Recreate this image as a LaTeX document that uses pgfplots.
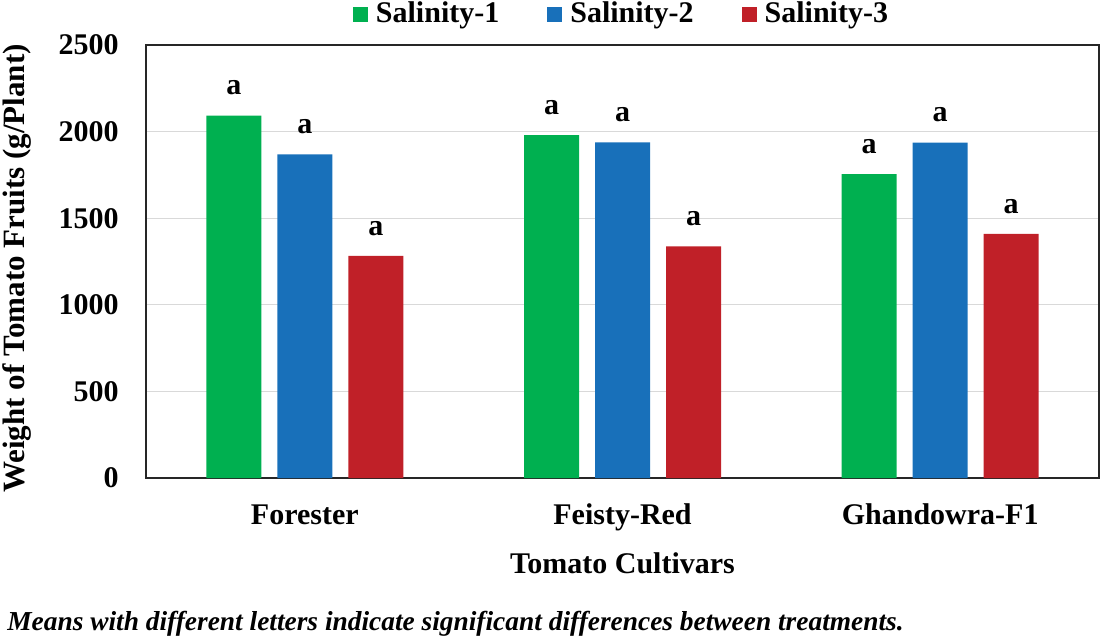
\documentclass[border=0pt]{standalone}
\usepackage{fontspec}
\setmainfont{Liberation Serif}
\usepackage{pgfplots}
\pgfplotsset{compat=1.18}
\definecolor{cg}{RGB}{0,176,80}
\definecolor{cb}{RGB}{24,112,186}
\definecolor{cr}{RGB}{192,32,40}
\newcommand{\fs}{\fontsize{15}{18}\selectfont\bfseries}
\begin{document}
\begin{tikzpicture}
\useasboundingbox (-73pt,-80.5pt) rectangle (477.5pt,239pt);
\begin{axis}[
  at={(0pt,0pt)}, anchor=south west,
  scale only axis, width=476.5pt, height=216.5pt,
  clip=false,
  xmin=-0.5, xmax=2.5, ymin=0, ymax=2500,
  ybar=8pt, bar width=27.5pt,
  xtick={0,1,2}, xticklabels={Forester,Feisty-Red,Ghandowra-F1},
  ytick={0,500,1000,1500,2000,2500},
  ymajorgrids, major grid style={line width=0.6pt, draw=black!15},
  major tick length=0pt,
  axis line style={line width=1pt, draw=black!85},
  tick label style={font=\fs},
  /pgf/number format/assume math mode=true,
  /pgf/number format/1000 sep={},
  yticklabel style={anchor=east, inner sep=0pt, xshift=-13.5pt},
  xticklabel style={anchor=base, inner sep=0pt, yshift=-23pt},
  xlabel={Tomato Cultivars},
  xlabel style={at={(rel axis cs:0.5,0)}, anchor=base, inner sep=0pt, yshift=-47.5pt, font=\fs},
  ylabel={Weight of Tomato Fruits (g/Plant)},
  ylabel style={at={(rel axis cs:-0.1354,0.4838)}, anchor=center, inner sep=0pt, font=\fontsize{15.5}{18}\selectfont\bfseries},
  legend style={at={(rel axis cs:0.5,1)}, anchor=center, yshift=15.5pt, draw=none, fill=none,
    font=\fs, inner sep=0pt,
    /tikz/every odd column/.append style={column sep=2pt},
    /tikz/every even column/.append style={column sep=22pt}},
  legend columns=-1,
  legend image code/.code={\fill[#1] (0pt,-3.75pt) rectangle (7.5pt,3.75pt);},
  nodes near coords={a},
  every node near coord/.append style={font=\fs, anchor=south, inner sep=0pt, yshift=10pt, text=black},
]
\addplot[fill=cg, draw=none] coordinates {(0,2092) (1,1979) (2,1755)};
\addplot[fill=cb, draw=none] coordinates {(0,1869) (1,1938) (2,1936)};
\addplot[fill=cr, draw=none] coordinates {(0,1283) (1,1338) (2,1410)};
\legend{Salinity-1,Salinity-2,Salinity-3}
\node[anchor=base west, inner sep=0pt, font=\fontsize{13.7}{17}\selectfont\bfseries\itshape] at (rel axis cs:-0.1459,-0.3524) {Means with different letters indicate significant differences between treatments.};
\end{axis}
\end{tikzpicture}
\end{document}
